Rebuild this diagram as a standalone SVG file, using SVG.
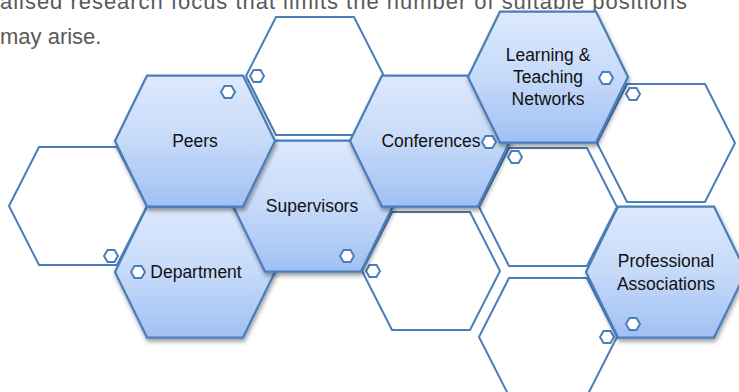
<svg xmlns="http://www.w3.org/2000/svg" width="739" height="392" viewBox="0 0 739 392">
  <defs>
    <linearGradient id="hexFill" x1="0" y1="0" x2="0" y2="1">
      <stop offset="0" stop-color="#dde9fd"/>
      <stop offset="0.5" stop-color="#c6daf9"/>
      <stop offset="1" stop-color="#a0c0f4"/>
    </linearGradient>
    <filter id="shadow" x="-10%" y="-10%" width="125%" height="130%">
      <feDropShadow dx="1" dy="3" stdDeviation="2" flood-color="#000" flood-opacity="0.38"/>
    </filter>
  </defs>
  <style>
    .body { font-family: "Liberation Sans", Arial, sans-serif; font-size: 22px; fill: #595959; }
    .hex-empty { fill: #ffffff; stroke: #4a7ebb; stroke-width: 2; stroke-linejoin: miter; }
    .hex-full { fill: url(#hexFill); stroke: #4a7ebb; stroke-width: 2.25; filter: url(#shadow); }
    .dot { fill: #ffffff; stroke: #4a7ebb; stroke-width: 2; }
    .label { font-family: "Liberation Sans", Arial, sans-serif; font-size: 17.5px; fill: #111111; text-anchor: middle; }
  </style>

  <!-- running paragraph above the honeycomb -->
  <text class="body" x="0" y="9" textLength="687" lengthAdjust="spacing">alised research focus that limits the number of suitable positions</text>
  <text class="body" x="0" y="44">may arise.</text>

  <!-- outlined (empty) cells -->
  <g id="cell-left">
    <polygon class="hex-empty" points="9,206 39,147 117,147 147,206 117,265 39,265"/>
    <polygon class="dot" transform="translate(111,256)" points="-7,0 -3.5,-6 3.5,-6 7,0 3.5,6 -3.5,6"/>
  </g>
  <g id="cell-top">
    <polygon class="hex-empty" points="246,76 276,17 354,17 384,76 354,135 276,135"/>
    <polygon class="dot" transform="translate(257,76)" points="-7,0 -3.5,-6 3.5,-6 7,0 3.5,6 -3.5,6"/>
  </g>
  <g id="cell-upper-right">
    <polygon class="hex-empty" points="597,143 627,84 705,84 735,143 705,202 627,202"/>
    <polygon class="dot" transform="translate(633,94)" points="-7,0 -3.5,-6 3.5,-6 7,0 3.5,6 -3.5,6"/>
  </g>
  <g id="cell-middle">
    <polygon class="hex-empty" points="362,271 392,212 470,212 500,271 470,330 392,330"/>
    <polygon class="dot" transform="translate(373,271)" points="-7,0 -3.5,-6 3.5,-6 7,0 3.5,6 -3.5,6"/>
  </g>
  <g id="cell-middle-right">
    <polygon class="hex-empty" points="479,207 509,148 587,148 617,207 587,266 509,266"/>
    <polygon class="dot" transform="translate(515,157)" points="-7,0 -3.5,-6 3.5,-6 7,0 3.5,6 -3.5,6"/>
  </g>
  <g id="cell-bottom-right">
    <polygon class="hex-empty" points="479,337 509,278 587,278 617,337 587,396 509,396"/>
    <polygon class="dot" transform="translate(607,337)" points="-7,0 -3.5,-6 3.5,-6 7,0 3.5,6 -3.5,6"/>
  </g>

  <!-- filled cells with labels -->
  <g id="department">
    <polygon class="hex-full" points="115,272 147,206.5 243,206.5 275,272 243,337.5 147,337.5"/>
    <text class="label" x="196" y="272" dy="0.35em">Department</text>
    <polygon class="dot" transform="translate(138,272)" points="-7,0 -3.5,-6 3.5,-6 7,0 3.5,6 -3.5,6"/>
  </g>
  <g id="supervisors">
    <polygon class="hex-full" points="233,206 265,140.5 361,140.5 393,206 361,271.5 265,271.5"/>
    <text class="label" x="312" y="206" dy="0.35em">Supervisors</text>
    <polygon class="dot" transform="translate(347,256)" points="-7,0 -3.5,-6 3.5,-6 7,0 3.5,6 -3.5,6"/>
  </g>
  <g id="peers">
    <polygon class="hex-full" points="115,141 147,75.5 243,75.5 275,141 243,206.5 147,206.5"/>
    <text class="label" x="195" y="141" dy="0.35em">Peers</text>
    <polygon class="dot" transform="translate(228,92)" points="-7,0 -3.5,-6 3.5,-6 7,0 3.5,6 -3.5,6"/>
  </g>
  <g id="conferences">
    <polygon class="hex-full" points="350,141 382,75.5 478,75.5 510,141 478,206.5 382,206.5"/>
    <text class="label" x="431" y="141" dy="0.35em">Conferences</text>
    <polygon class="dot" transform="translate(489,142)" points="-7,0 -3.5,-6 3.5,-6 7,0 3.5,6 -3.5,6"/>
  </g>
  <g id="learning-teaching-networks">
    <polygon class="hex-full" points="468,77 500,11.5 596,11.5 628,77 596,142.5 500,142.5"/>
    <text class="label" x="548" y="55" dy="0.35em">Learning &amp;</text>
    <text class="label" x="548" y="77" dy="0.35em">Teaching</text>
    <text class="label" x="548" y="99" dy="0.35em">Networks</text>
    <polygon class="dot" transform="translate(606,78)" points="-7,0 -3.5,-6 3.5,-6 7,0 3.5,6 -3.5,6"/>
  </g>
  <g id="professional-associations">
    <polygon class="hex-full" points="586,272 618,206.5 714,206.5 746,272 714,337.5 618,337.5"/>
    <text class="label" x="666" y="261" dy="0.35em">Professional</text>
    <text class="label" x="666" y="284" dy="0.35em">Associations</text>
    <polygon class="dot" transform="translate(633,324)" points="-7,0 -3.5,-6 3.5,-6 7,0 3.5,6 -3.5,6"/>
  </g>
</svg>
